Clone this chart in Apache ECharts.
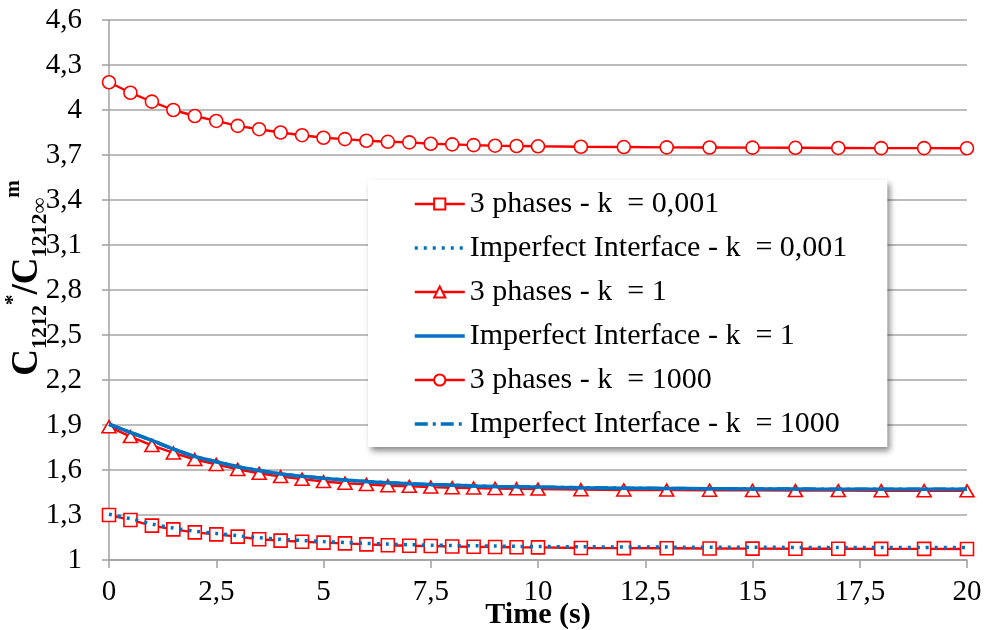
<!DOCTYPE html>
<html><head><meta charset="utf-8">
<script src="https://cdn.jsdelivr.net/npm/echarts@6/dist/echarts.min.js"></script>
<style>html,body{margin:0;padding:0;background:#fff}#c{width:984px;height:630px}</style>
</head><body><div id="c"></div>
<script>
// ---- data ----
const times = [0,0.5,1,1.5,2,2.5,3,3.5,4,4.5,5,5.5,6,6.5,7,7.5,8,8.5,9,9.5,10,11,12,13,14,15,16,17,18,19,20];
const seriesNames = [
  '3 phases - k  = 0,001',
  'Imperfect Interface - k  = 0,001',
  '3 phases - k  = 1',
  'Imperfect Interface - k  = 1',
  '3 phases - k  = 1000',
  'Imperfect Interface - k  = 1000'
];
const phases3_k0001 = [1.300,1.267,1.229,1.204,1.184,1.171,1.156,1.138,1.129,1.122,1.116,1.111,1.104,1.098,1.095,1.093,1.090,1.088,1.087,1.085,1.084,1.080,1.079,1.078,1.077,1.076,1.075,1.075,1.074,1.074,1.073];
const imperfect_k0001 = [1.305,1.275,1.240,1.213,1.192,1.177,1.162,1.148,1.138,1.130,1.123,1.117,1.111,1.106,1.102,1.099,1.097,1.095,1.093,1.091,1.090,1.088,1.087,1.086,1.085,1.085,1.084,1.084,1.083,1.083,1.083];
const phases3_k1 = [1.889,1.823,1.764,1.714,1.670,1.637,1.604,1.578,1.556,1.539,1.523,1.512,1.504,1.495,1.491,1.486,1.482,1.480,1.477,1.475,1.473,1.469,1.467,1.466,1.465,1.464,1.463,1.463,1.462,1.462,1.461];
const imperfect_k1 = [1.905,1.850,1.797,1.740,1.690,1.655,1.622,1.596,1.574,1.558,1.545,1.533,1.523,1.515,1.508,1.503,1.499,1.494,1.490,1.488,1.486,1.482,1.479,1.477,1.475,1.474,1.473,1.472,1.472,1.471,1.471];
const phases3_k1000 = [4.185,4.115,4.056,4.000,3.960,3.927,3.894,3.872,3.850,3.832,3.815,3.806,3.795,3.788,3.784,3.775,3.771,3.766,3.762,3.760,3.758,3.755,3.753,3.751,3.750,3.749,3.748,3.747,3.746,3.746,3.745];
const imperfect_k1000 = [1.905,1.850,1.797,1.740,1.690,1.655,1.622,1.596,1.574,1.558,1.545,1.533,1.523,1.515,1.508,1.503,1.499,1.494,1.490,1.488,1.486,1.482,1.479,1.477,1.475,1.474,1.473,1.472,1.472,1.471,1.471];
const xAxisName = 'Time (s)';
const yMin = 1, yMax = 4.6, yStep = 0.3;
const xMin = 0, xMax = 20, xStep = 2.5;

// ---- chart ----
const RED = '#ff0000', BLUE = '#0070c0';
const FONT = "'Liberation Serif', 'Times New Roman', 'DejaVu Serif', serif";
const DOT = [3, 6], DASHDOT = [13, 5, 3, 5];
const pairs = arr => times.map((t, i) => [t, arr[i]]);
const fmt = v => String(Math.round(v * 10) / 10).replace('.', ',');

function redSeries(name, data, symbol, z) {
  return {
    name, type: 'line', data: pairs(data), z,
    symbol, symbolSize: symbol === 'triangle' ? [14, 12] : 13,
    lineStyle: { color: RED, width: 2.4 },
    itemStyle: { color: '#fff', borderColor: RED, borderWidth: 1.6 },
    emphasis: { disabled: true }
  };
}
function blueSeries(name, data, type, width, z) {
  return {
    name, type: 'line', data: pairs(data), z, smooth: 0.3,
    symbol: 'none', showSymbol: false,
    lineStyle: { color: BLUE, width, type },
    itemStyle: { color: BLUE },
    emphasis: { disabled: true }
  };
}
const legendTypes = ['solid', DOT, 'solid', 'solid', 'solid', DASHDOT];
const legendData = seriesNames.map((n, i) => i % 2 === 1
  ? { name: n, itemStyle: { color: 'rgba(0,0,0,0)', borderWidth: 0, opacity: 0 },
      lineStyle: { width: 3.5, color: BLUE, type: legendTypes[i] } }
  : { name: n, lineStyle: { width: 2.4, color: RED } });

const chart = echarts.init(document.getElementById('c'), null, { renderer: 'canvas' });
chart.setOption({
  animation: false,
  backgroundColor: '#fff',
  grid: { left: 109, right: 17, top: 20, bottom: 70, outerBoundsMode: 'none', containLabel: false },
  xAxis: {
    type: 'value', min: xMin, max: xMax, interval: xStep,
    name: xAxisName, nameLocation: 'middle', nameGap: 40, nameMoveOverlap: false,
    nameTextStyle: { fontFamily: FONT, fontSize: 30, fontWeight: 'bold', color: '#000' },
    axisLine: { lineStyle: { color: '#a0a0a0', width: 1.5 } },
    axisTick: { show: true, length: 8, lineStyle: { color: '#a0a0a0', width: 1.5 } },
    axisLabel: { formatter: fmt, fontFamily: FONT, fontSize: 29, color: '#000', margin: 18 },
    splitLine: { show: false }
  },
  yAxis: {
    type: 'value', min: yMin, max: yMax, interval: yStep,
    axisLine: { show: true, lineStyle: { color: '#a0a0a0', width: 1.5 } },
    axisTick: { show: true, length: 7, lineStyle: { color: '#a0a0a0', width: 1.5 } },
    axisLabel: { formatter: fmt, fontFamily: FONT, fontSize: 29, color: '#000', margin: 27 },
    splitLine: { show: true, lineStyle: { color: '#a6a6a6', width: 1.5 } }
  },
  legend: {
    orient: 'vertical', left: 368, top: 180,
    padding: [9, 40, 8, 45], itemGap: 14, itemWidth: 50, itemHeight: 14,
    backgroundColor: '#fff',
    shadowBlur: 6, shadowColor: 'rgba(0,0,0,0.45)', shadowOffsetX: 3, shadowOffsetY: 4,
    textStyle: { fontFamily: FONT, fontSize: 30, color: '#000' },
    data: legendData
  },
  graphic: [{
    type: 'text', x: 27, y: 278, rotation: Math.PI / 2,
    style: {
      text: '{c|C}{sub|1212}{sup|*}{c|/C}{sub|1212∞}{sup|m}',
      align: 'center', verticalAlign: 'middle',
      fill: '#000',
      rich: {
        c: { fontFamily: FONT, fontSize: 37, fontWeight: 'bold', lineHeight: 48, verticalAlign: 'middle' },
        sub: { fontFamily: FONT, fontSize: 22, fontWeight: 'bold', verticalAlign: 'bottom', lineHeight: 22 },
        sup: { fontFamily: FONT, fontSize: 21, fontWeight: 'bold', verticalAlign: 'top', lineHeight: 24 }
      }
    }
  }],
  series: [
    redSeries(seriesNames[0], phases3_k0001, 'rect', 2),
    blueSeries(seriesNames[1], imperfect_k0001, DOT, 3.5, 3),
    redSeries(seriesNames[2], phases3_k1, 'triangle', 4),
    blueSeries(seriesNames[3], imperfect_k1, 'solid', 3.5, 5),
    redSeries(seriesNames[4], phases3_k1000, 'circle', 6),
    blueSeries(seriesNames[5], imperfect_k1000, DASHDOT, 3.5, 7)
  ]
});
</script></body></html>
